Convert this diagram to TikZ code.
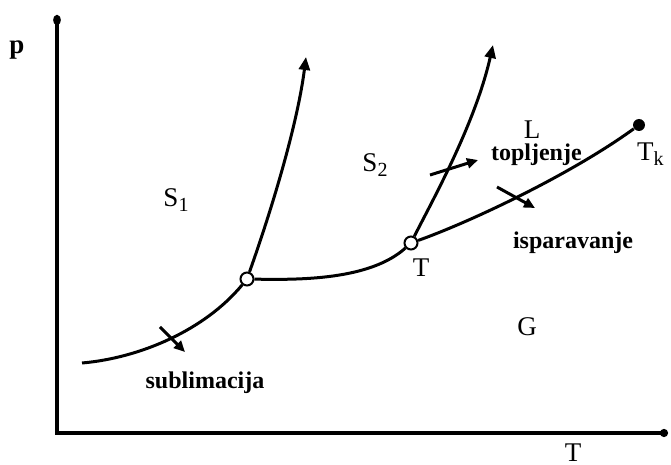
\documentclass[tikz,border=0pt]{standalone}
\usepackage{fontspec}
\setmainfont{Liberation Serif}
\usetikzlibrary{arrows.meta}
\newcommand{\lowidx}[1]{\raisebox{-0.45ex}{\fontsize{10}{10}\selectfont #1}}
\tikzset{
  crv/.style={line width=1.5pt},
  proc/.style={line width=1.5pt, -{Triangle[length=5.5pt,width=5pt]}},
  tpt/.style={circle, draw, fill=white, line width=1pt, inner sep=0pt, minimum size=6.5pt},
  lbl/.style={font=\fontsize{13.5}{15}\selectfont},
  wrd/.style={font=\fontsize{12}{14}\selectfont\bfseries},
}
\begin{document}
\begin{tikzpicture}[x=0.5pt,y=-0.5pt]
\useasboundingbox (0,0) rectangle (671,465);
% axes
\coordinate (o) at (57,433);
\coordinate (ytop) at (57,15);
\coordinate (xend) at (668,433);
\draw[line width=1.6pt, {Circle[length=5pt,width=3.8pt]}-{Circle[length=4pt]}] (ytop) -- (o) -- (xend);
\node (p)[lbl, font=\fontsize{13.5}{15}\selectfont\bfseries] at (17,50) {p};
\node (tax)[lbl, inner sep=0.5pt] at (573,453) {T};

% triple points and critical point
\node[tpt] (tp1) at (247,279) {};
\node[tpt] (tp2) at (411,243) {};
\node[circle, fill, inner sep=0pt, minimum size=6pt] (tk) at (639,125) {};
\coordinate (sub0) at (82,363);
\coordinate (top1) at (306,57);
\coordinate (top2) at (493,45);

\draw[crv] (sub0) .. controls (140,358) and (205,330) .. (tp1);
\draw[crv] (tp1) .. controls (300,280) and (370,280) .. (tp2);
\draw[crv] (tp2) .. controls (470,222) and (570,175) .. (tk);
\draw[crv, -{Triangle[length=6.5pt,width=5.5pt]}] (tp1) .. controls (275,200) and (298,120) .. (top1);
\draw[crv, -{Triangle[length=6.5pt,width=5.5pt]}] (tp2) .. controls (430,205) and (475,125) .. (top2);

% process arrows
\coordinate (a1s) at (160,327);
\coordinate (a1e) at (185,352);
\coordinate (a2s) at (430,175);
\coordinate (a2e) at (478,160);
\coordinate (a3s) at (497,187);
\coordinate (a3e) at (535,208);
\draw[proc] (a1s) -- (a1e);
\draw[proc] (a2s) -- (a2e);
\draw[proc] (a3s) -- (a3e);

% labels
\node (s1)[lbl] at (176,200) {S\lowidx{1}};
\node (s2)[lbl] at (375,165) {S\lowidx{2}};
\node (l)[lbl] at (532,130) {L};
\node (g)[lbl] at (527,327) {G};
\node (t3)[lbl] at (421,268) {T};
\node (tkl)[lbl, anchor=west] at (630,154) {T\lowidx{k}};
\node (top)[wrd, anchor=west] at (484,155) {topljenje};
\node (isp)[wrd, anchor=west] at (506,243) {isparavanje};
\node (sub)[wrd] at (205,383) {sublimacija};
\end{tikzpicture}
\end{document}
